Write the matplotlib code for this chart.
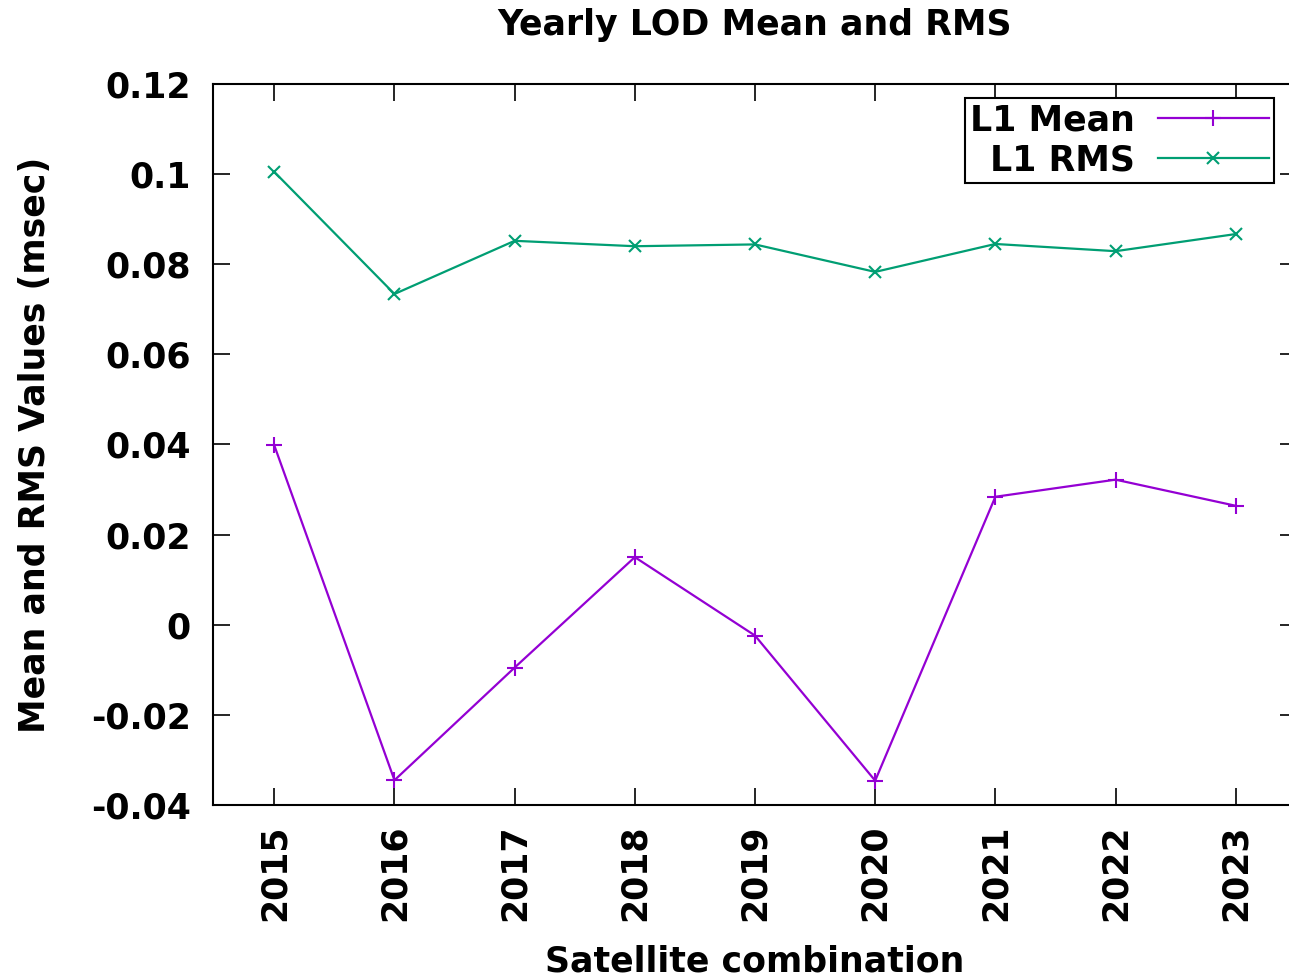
"""Yearly LOD mean and RMS, gnuplot-style line plot."""
import matplotlib
matplotlib.use("Agg")
import matplotlib.pyplot as plt
import numpy as np
from matplotlib.ticker import FuncFormatter

years = [2015, 2016, 2017, 2018, 2019, 2020, 2021, 2022, 2023]
l1_mean = [0.0398, -0.0345, -0.0095, 0.0150, -0.0024, -0.0346, 0.0284, 0.0322, 0.0264]
l1_rms = [0.1005, 0.0734, 0.0852, 0.0840, 0.0844, 0.0783, 0.0845, 0.0829, 0.0867]

plt.rcParams["font.family"] = ["DejaVu Sans"]
plt.rcParams["font.weight"] = "bold"
plt.rcParams["axes.unicode_minus"] = False
FS = 25

fig = plt.figure(figsize=(12.89, 9.8), dpi=100)
ax = fig.add_axes([213 / 1289, 1 - 805 / 980, (1297 - 213) / 1289, (805 - 84) / 980])

ax.plot(years, l1_mean, color="#9400d3", lw=1.6, marker="+", ms=11, mew=1.5,
        label="L1 Mean")
ax.plot(years, l1_rms, color="#009e73", lw=1.6, marker="x", ms=9, mew=1.5,
        label="L1 RMS")

ax.set_xlim(2014.49, 2023.51)
ax.set_ylim(-0.04, 0.12)
ax.set_xticks(years)
ax.set_yticks(np.round(np.arange(-0.04, 0.121, 0.02), 2))
ax.yaxis.set_major_formatter(FuncFormatter(lambda v, _: f"{v:g}"))
ax.tick_params(direction="in", length=12, width=1.2, top=True, right=True,
               labelsize=FS)
ax.tick_params(axis="y", pad=16)
ax.tick_params(axis="x", pad=14)
for lab in ax.get_xticklabels():
    lab.set_rotation(90)
    lab.set_fontweight("bold")
for lab in ax.get_yticklabels():
    lab.set_fontweight("bold")
for sp in ax.spines.values():
    sp.set_linewidth(1.5)

ax.set_title("Yearly LOD Mean and RMS", fontsize=FS, fontweight="bold", pad=35)
ax.set_xlabel("Satellite combination", fontsize=FS, fontweight="bold", labelpad=17)
ax.set_ylabel("Mean and RMS Values (msec)", fontsize=FS, fontweight="bold", labelpad=28)

leg = ax.legend(loc="upper right", bbox_to_anchor=(1274 / 1289, 1 - 98 / 980),
                bbox_transform=fig.transFigure, markerfirst=False, fancybox=False,
                framealpha=1, edgecolor="black", fontsize=FS, handlelength=3.2,
                borderpad=0.15, labelspacing=0.18, handletextpad=0.66,
                borderaxespad=0)
leg.get_frame().set_linewidth(1.5)

fig.savefig("out.png", dpi=100)
